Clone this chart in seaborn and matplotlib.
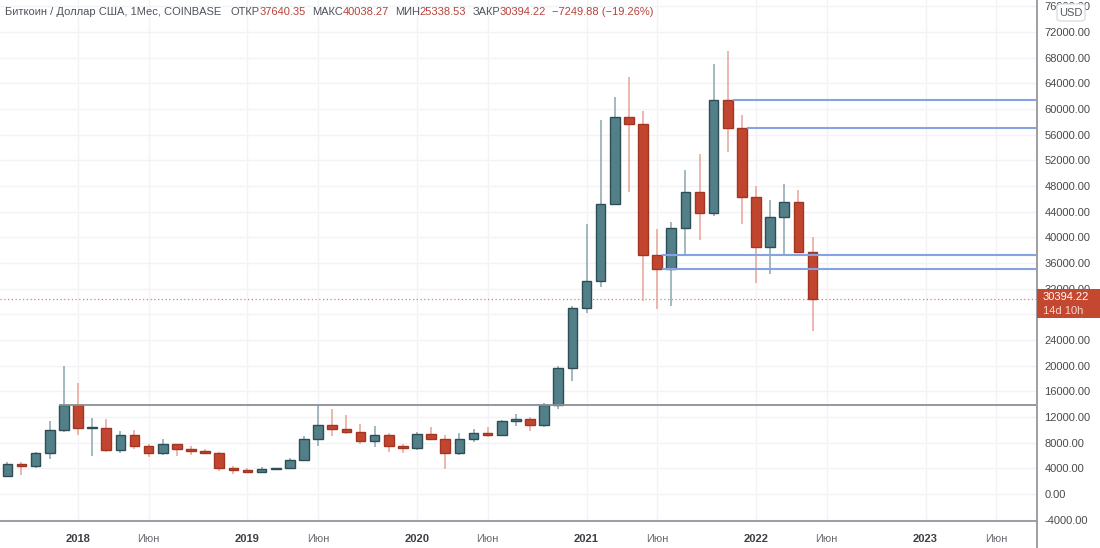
import pandas as pd
import numpy as np
import seaborn as sns
import matplotlib.pyplot as plt
from matplotlib.patches import Rectangle, FancyBboxPatch
from matplotlib.lines import Line2D

# месячные свечи BTC/USD (Coinbase)
months = ['2017-08', '2017-09', '2017-10', '2017-11', '2017-12',
          '2018-01', '2018-02', '2018-03', '2018-04', '2018-05', '2018-06',
          '2018-07', '2018-08', '2018-09', '2018-10', '2018-11', '2018-12',
          '2019-01', '2019-02', '2019-03', '2019-04', '2019-05', '2019-06',
          '2019-07', '2019-08', '2019-09', '2019-10', '2019-11', '2019-12',
          '2020-01', '2020-02', '2020-03', '2020-04', '2020-05', '2020-06',
          '2020-07', '2020-08', '2020-09', '2020-10', '2020-11', '2020-12',
          '2021-01', '2021-02', '2021-03', '2021-04', '2021-05', '2021-06',
          '2021-07', '2021-08', '2021-09', '2021-10', '2021-11', '2021-12',
          '2022-01', '2022-02', '2022-03', '2022-04', '2022-05']
opens = [2871, 4735, 4338, 6440, 9947,
         13880, 10220, 10320, 6920, 9240, 7490,
         6390, 7730, 7010, 6630, 6370, 4040,
         3740, 3440, 3820, 4100, 5320, 8570,
         10820, 10090, 9600, 8290, 9150, 7550,
         7190, 9350, 8540, 6420, 8630, 9450,
         9140, 11340, 11650, 10780, 13800, 19700,
         28990, 33110, 45160, 58800, 57720, 37300,
         35040, 41490, 47130, 43830, 61320, 57000,
         46210, 38470, 43160, 45510, 37640.35]
highs = [4980, 4980, 6470, 11400, 19892,
         17250, 11780, 11700, 9760, 9990, 7760,
         8500, 7760, 7410, 7000, 6590, 4310,
         4090, 4210, 4120, 5600, 9100, 13880,
         13200, 12330, 10950, 10550, 9510, 7750,
         9580, 10500, 9200, 9460, 10080, 10390,
         11450, 12470, 12070, 14100, 19890, 29300,
         41990, 58350, 61790, 64900, 59600, 41300,
         42400, 50500, 52920, 67000, 69000, 59100,
         47990, 45800, 48240, 47440, 40038.27]
lows = [2580, 2975, 4110, 5500, 9600,
        9200, 5960, 6600, 6430, 7060, 5780,
        6110, 5880, 6110, 6200, 3550, 3130,
        3350, 3380, 3740, 4070, 5300, 7450,
        9080, 9330, 7740, 7300, 6520, 6430,
        6860, 8450, 3860, 6150, 8110, 8910,
        8970, 10520, 9880, 10430, 13200, 17570,
        28130, 32300, 44960, 47000, 30000, 28800,
        29280, 37330, 39600, 43290, 53260, 42000,
        32950, 34320, 37160, 37700, 25338.53]
closes = [4735, 4338, 6440, 9947, 13880,
          10220, 10320, 6920, 9240, 7490, 6390,
          7730, 7010, 6630, 6370, 4040, 3740,
          3440, 3820, 4100, 5320, 8570, 10820,
          10090, 9600, 8290, 9150, 7550, 7190,
          9350, 8540, 6420, 8630, 9450, 9140,
          11340, 11650, 10780, 13800, 19700, 28990,
          33110, 45160, 58800, 57720, 37300, 35040,
          41490, 47130, 43830, 61320, 57000, 46210,
          38470, 43160, 45510, 37640.35, 30394.22]

# горизонтальные уровни и месяц, от которого они начинаются
level_values = [13880, 61320, 57000, 37300, 35040]
level_from = ['2017-12', '2021-11', '2021-12', '2021-06', '2021-06']
level_colors = ['#8c8f96', '#86a2e0', '#86a2e0', '#86a2e0', '#86a2e0']

tick_months = ['2018-01', '2018-06', '2019-01', '2019-06', '2020-01', '2020-06',
               '2021-01', '2021-06', '2022-01', '2022-06', '2023-01', '2023-06']
tick_labels = ['2018', 'Июн', '2019', 'Июн', '2020', 'Июн',
               '2021', 'Июн', '2022', 'Июн', '2023', 'Июн']

last_price = 30394.22
timer = '14d 10h'

sns.set_theme(style='white')
plt.rcParams['font.family'] = ['Liberation Sans', 'DejaVu Sans']

base = pd.Period('2018-01', freq='M')
def midx(m):
    return (pd.Period(m, freq='M') - base).n

df = pd.DataFrame({'month': months, 'open': opens, 'high': highs,
                   'low': lows, 'close': closes})
df['x'] = [midx(m) for m in df['month']]
df['up'] = df['close'] >= df['open']

W, H = 1100, 548
fig = plt.figure(figsize=(W / 100, H / 100), dpi=100)
ax = fig.add_axes([0, 27 / H, 1036 / W, 521 / H])

up_face, up_edge, up_wick = '#537f89', '#2e4e56', '#8aa6ad'
dn_face, dn_edge, dn_wick = '#c2452f', '#a23623', '#e8a398'

# свечи: тени и тела
for up, face, edge, wick in [(True, up_face, up_edge, up_wick),
                             (False, dn_face, dn_edge, dn_wick)]:
    d = df[df['up'] == up]
    ax.vlines(d['x'], d['low'], d['high'], color=wick, linewidth=1.1, zorder=2)
    ax.bar(d['x'], (d['close'] - d['open']).abs().clip(lower=150),
           bottom=d[['open', 'close']].min(axis=1), width=0.68,
           color=face, edgecolor=edge, linewidth=1.0, zorder=3)

xmin, xmax = -5.52, 67.82
for val, start, col in zip(level_values, level_from, level_colors):
    grey_line = col == '#8c8f96'
    x0 = midx(start) - 0.35 if grey_line else midx(start) + 0.35
    ax.hlines(val, x0, xmax, color=col, linewidth=1.3 if grey_line else 1.5, zorder=4)

ax.axhline(last_price, color='#dc7a6c', linewidth=0.9, linestyle=(0, (1, 2)), zorder=1)

ax.set_xlim(xmin, xmax)
ax.set_ylim(-4210, 76970)

# подпись 28000 полностью закрыта плашкой цены
yt = np.arange(-4000, 76001, 4000)
ax.set_yticks(yt)
ax.set_yticklabels(['' if v == 28000 else '%.2f' % v for v in yt])
ax.yaxis.tick_right()
ax.tick_params(axis='y', length=0, pad=6, labelsize=8, labelcolor='#4a4a4a')

ax.set_xticks([midx(m) for m in tick_months])
ax.set_xticklabels(tick_labels)
ax.tick_params(axis='x', length=0, pad=9, labelsize=8)
for lab in ax.get_xticklabels():
    if lab.get_text() == 'Июн':
        lab.set_color('#6a6d73')
    else:
        lab.set_color('#3c3f45')
        lab.set_fontweight('bold')

ax.grid(True, color='#f2f3f6', linewidth=1.0, zorder=0)
ax.set_axisbelow(True)
for s in ['top', 'left', 'right']:
    ax.spines[s].set_visible(False)
ax.spines['bottom'].set_color('#8c8f96')
ax.spines['bottom'].set_linewidth(1.2)

# вертикальный разделитель шкалы цен
fig.add_artist(Line2D([1036.5 / W, 1036.5 / W], [0, 1], transform=fig.transFigure,
                      color='#8c8f96', linewidth=1.2))

# плашка текущей цены
fig.add_artist(Rectangle((1037 / W, 1 - 318 / H), 63 / W, 29 / H,
                         transform=fig.transFigure, facecolor='#c4472f',
                         edgecolor='none', zorder=10))
fig.text(1043 / W, 1 - 297 / H, '%.2f' % last_price, color='white', fontsize=8,
         va='center', ha='left', zorder=11)
fig.text(1043 / W, 1 - 311 / H, timer, color='#f6d6cf', fontsize=8,
         va='center', ha='left', zorder=11)

# значок валюты
fig.add_artist(FancyBboxPatch((1057 / W, 1 - 21 / H), 28 / W, 17 / H,
                              boxstyle='round,pad=0,rounding_size=0.004',
                              transform=fig.transFigure, facecolor='white',
                              edgecolor='#d5d7dc', linewidth=0.8, zorder=10))
fig.text(1071 / W, 1 - 12.5 / H, 'USD', color='#555960', fontsize=8,
         va='center', ha='center', zorder=11)

# строка заголовка
grey, red = '#4f535a', '#b8423a'
pieces = [('Биткоин / Доллар США, 1Мес, COINBASE', grey, 9),
          ('ОТКР', grey, 0), ('37640.35', red, 6),
          ('МАКС', grey, 0), ('40038.27', red, 6),
          ('МИН', grey, 0), ('25338.53', red, 6),
          ('ЗАКР', grey, 0), ('30394.22', red, 6),
          ('−7249.88 (−19.26%)', red, 0)]
fig.canvas.draw()
renderer = fig.canvas.get_renderer()
xpos = 5
for txt, col, gap in pieces:
    t = fig.text(xpos / W, 1 - 12 / H, txt, color=col, fontsize=8,
                 va='center', ha='left')
    xpos += t.get_window_extent(renderer).width + gap

plt.savefig('out.png', dpi=100)
